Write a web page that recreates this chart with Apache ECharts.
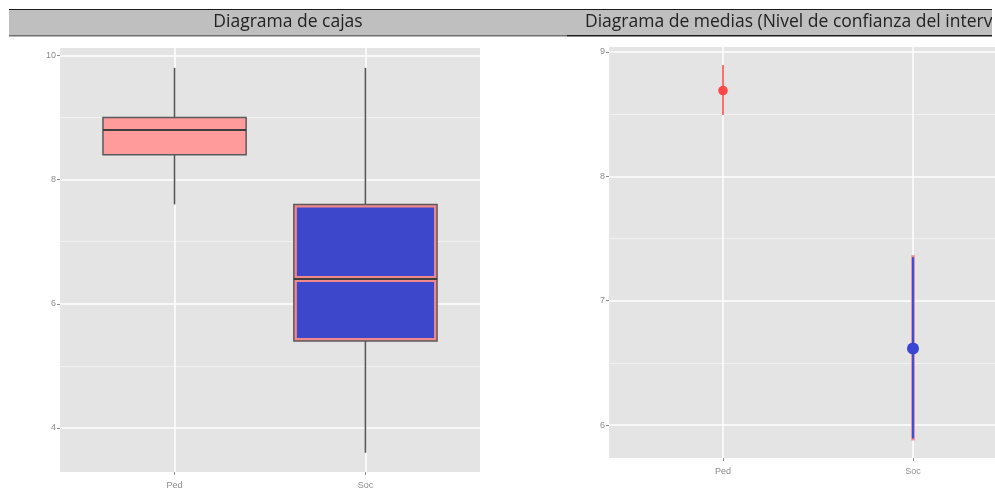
<!DOCTYPE html>
<html>
<head>
<meta charset="utf-8">
<script src="https://cdn.jsdelivr.net/npm/echarts@6/dist/echarts.min.js"></script>
<style>
  html, body { margin: 0; padding: 0; background: #fff; }
  #chartBox { width: 995px; height: 490px; }
</style>
</head>
<body>
<div id="chartBox"></div>
<script>
  // categorias y valores
  var categories = ['Ped', 'Soc'];

  // diagrama de cajas
  var boxLow = [7.6, 3.6];
  var boxQ1 = [8.4, 5.4];
  var boxMedian = [8.8, 6.4];
  var boxQ3 = [9.0, 7.6];
  var boxHigh = [9.8, 9.8];
  var boxTicks = [4, 6, 8, 10];
  var boxMinorTicks = [5, 7, 9];

  // diagrama de medias
  var meanValues = [8.69, 6.615];
  var ciLower = [8.493, 5.876];
  var ciUpper = [8.895, 7.366];
  var meanTicks = [6, 7, 8, 9];
  var meanMinorTicks = [6.5, 7.5, 8.5];

  var titles = ['Diagrama de cajas', 'Diagrama de medias (Nivel de confianza del intervalo al 95%)'];

  var boxFill = ['#FF9B9B', '#F3888C'];
  var boxInner = [null, '#3D47CC'];
  var meanLine = ['#FF6E6E', '#3F4ED8'];
  var meanPoint = ['#FF4747', '#3A45D2'];

  var panelBg = '#E4E4E4';
  var tickColor = '#8C8C8C';

  var chart = echarts.init(document.getElementById('chartBox'));

  function gridLines(ticks, minor) {
    var d = [];
    ticks.forEach(function (v) { d.push({ yAxis: v }); });
    minor.forEach(function (v) { d.push({ yAxis: v, lineStyle: { color: '#F1F1F1', width: 1 } }); });
    categories.forEach(function (c, i) { d.push({ xAxis: i + 1 }); });
    return d;
  }

  function renderBox(params, api) {
    var x = api.value(0);
    var i = params.dataIndex;
    var half = api.size([0.375, 0])[0];
    var pLow = api.coord([x, api.value(1)]);
    var pQ1 = api.coord([x, api.value(2)]);
    var pMed = api.coord([x, api.value(3)]);
    var pQ3 = api.coord([x, api.value(4)]);
    var pHigh = api.coord([x, api.value(5)]);
    var cx = pMed[0];
    var stroke = { stroke: '#555555', lineWidth: 1.6 };
    var kids = [
      { type: 'line', shape: { x1: cx, y1: pHigh[1], x2: cx, y2: pQ3[1] }, style: stroke },
      { type: 'line', shape: { x1: cx, y1: pQ1[1], x2: cx, y2: pLow[1] }, style: stroke },
      { type: 'rect', shape: { x: cx - half, y: pQ3[1], width: half * 2, height: pQ1[1] - pQ3[1] },
        style: { fill: boxFill[i], stroke: '#5A5A5A', lineWidth: 1.5 } }
    ];
    if (boxInner[i]) {
      var ins = 3;
      kids.push({ type: 'rect', shape: { x: cx - half + ins, y: pQ3[1] + ins, width: half * 2 - ins * 2, height: pMed[1] - pQ3[1] - ins * 2 },
        style: { fill: boxInner[i] } });
      kids.push({ type: 'rect', shape: { x: cx - half + ins, y: pMed[1] + ins, width: half * 2 - ins * 2, height: pQ1[1] - pMed[1] - ins * 2 },
        style: { fill: boxInner[i] } });
    }
    kids.push({ type: 'line', shape: { x1: cx - half, y1: pMed[1], x2: cx + half, y2: pMed[1] },
      style: { stroke: '#3E3E3E', lineWidth: 2 } });
    return { type: 'group', children: kids };
  }

  function renderMean(params, api) {
    var x = api.value(0);
    var i = params.dataIndex;
    var pm = api.coord([x, api.value(1)]);
    var pl = api.coord([x, api.value(2)]);
    var ph = api.coord([x, api.value(3)]);
    var kids = [];
    if (i === 1) {
      kids.push({ type: 'line', shape: { x1: pm[0], y1: ph[1], x2: pm[0], y2: pl[1] },
        style: { stroke: '#F28C8C', lineWidth: 3.5 } });
      kids.push({ type: 'line', shape: { x1: pm[0], y1: ph[1] + 2, x2: pm[0], y2: pl[1] - 2 },
        style: { stroke: meanLine[i], lineWidth: 2.2 } });
    } else {
      kids.push({ type: 'line', shape: { x1: pm[0], y1: ph[1], x2: pm[0], y2: pl[1] },
        style: { stroke: meanLine[i], lineWidth: 2 } });
    }
    kids.push({ type: 'circle', shape: { cx: pm[0], cy: pm[1], r: i === 1 ? 6 : 4.8 },
      style: { fill: meanPoint[i] } });
    return { type: 'group', children: kids };
  }

  function yAxisOpt(idx, min, max, ticks) {
    return {
      type: 'value', gridIndex: idx, min: min, max: max,
      splitLine: { show: false },
      axisLine: { show: false },
      axisTick: { show: true, length: 3, customValues: ticks, lineStyle: { color: tickColor } },
      axisLabel: { customValues: ticks, color: tickColor, fontSize: 9, margin: 4,
        fontFamily: 'Liberation Sans' }
    };
  }

  function xAxisOpt(idx, margin) {
    return {
      type: 'value', gridIndex: idx, min: 0.4, max: 2.6,
      splitLine: { show: false },
      axisLine: { show: false },
      axisTick: { show: true, length: 3, customValues: [1, 2], lineStyle: { color: tickColor } },
      axisLabel: { customValues: [1, 2], color: tickColor, fontSize: 9, margin: margin,
        fontFamily: 'Liberation Sans',
        formatter: function (v) { return categories[Math.round(v) - 1] || ''; } }
    };
  }

  var boxData = categories.map(function (c, i) {
    return [i + 1, boxLow[i], boxQ1[i], boxMedian[i], boxQ3[i], boxHigh[i]];
  });
  var meanData = categories.map(function (c, i) {
    return [i + 1, meanValues[i], ciLower[i], ciUpper[i]];
  });

  var markStyle = {
    symbol: 'none', silent: true, animation: false, z: 1,
    label: { show: false },
    lineStyle: { color: '#FFFFFF', width: 1.5, type: 'solid' }
  };

  var option = {
    animation: false,
    grid: [
      { left: 60, top: 48, width: 420, height: 424, show: true, backgroundColor: panelBg, borderWidth: 0,
        outerBoundsMode: 'none' },
      { left: 609, top: 47, width: 418, height: 411, show: true, backgroundColor: panelBg, borderWidth: 0,
        outerBoundsMode: 'none' }
    ],
    xAxis: [xAxisOpt(0, 9), xAxisOpt(1, 9)],
    yAxis: [yAxisOpt(0, 3.29, 10.12, boxTicks), yAxisOpt(1, 5.735, 9.04, meanTicks)],
    series: [
      { type: 'line', xAxisIndex: 0, yAxisIndex: 0, data: [], z: 1,
        markLine: Object.assign({ data: gridLines(boxTicks, boxMinorTicks) }, markStyle) },
      { type: 'custom', xAxisIndex: 0, yAxisIndex: 0, z: 10, renderItem: renderBox, data: boxData },
      { type: 'line', xAxisIndex: 1, yAxisIndex: 1, data: [], z: 1,
        markLine: Object.assign({ data: gridLines(meanTicks, meanMinorTicks) }, markStyle) },
      { type: 'custom', xAxisIndex: 1, yAxisIndex: 1, z: 10, renderItem: renderMean, data: meanData }
    ],
    graphic: [
      // cabecera tipo tabla
      { type: 'rect', shape: { x: 9, y: 10, width: 558, height: 25 }, style: { fill: '#BFBFBF' } },
      { type: 'rect', shape: { x: 567, y: 10, width: 425, height: 25 }, style: { fill: '#BFBFBF' } },
      { type: 'rect', shape: { x: 9, y: 9, width: 983, height: 1 }, style: { fill: '#1A1A1A' } },
      { type: 'rect', shape: { x: 9, y: 35, width: 558, height: 1.5 }, style: { fill: '#707070' } },
      { type: 'rect', shape: { x: 567, y: 35, width: 425, height: 1.5 }, style: { fill: '#1A1A1A' } },
      { type: 'text', x: 288, y: 22.5, z: 10,
        style: { text: titles[0], fill: '#222', fontSize: 17.5, fontFamily: 'Open Sans',
          textAlign: 'center', textVerticalAlign: 'middle' } },
      { type: 'text', x: 585, y: 22.5, z: 10,
        style: { text: titles[1], fill: '#222', fontSize: 17.5, fontFamily: 'Open Sans',
          textAlign: 'left', textVerticalAlign: 'middle' } },
      { type: 'rect', z: 20, shape: { x: 992, y: 0, width: 3, height: 40 }, style: { fill: '#FFFFFF' } }
    ]
  };

  chart.setOption(option);
  window.onresize = chart.resize;
</script>
</body>
</html>
